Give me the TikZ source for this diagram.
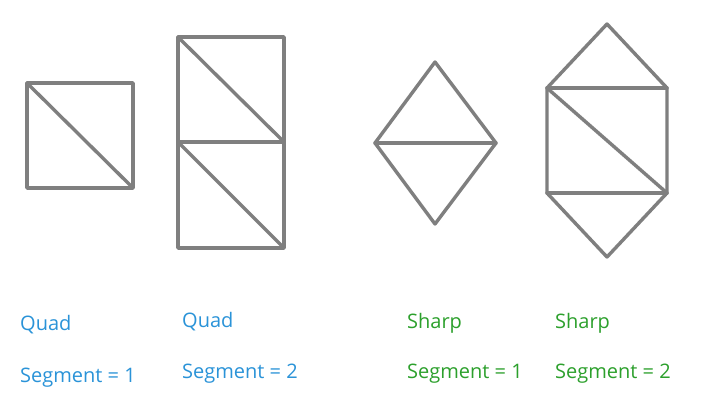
\documentclass[tikz,border=0pt]{standalone}
\usepackage{fontspec}
\setmainfont{Open Sans}
\usepackage{xcolor}
\usetikzlibrary{positioning}
\definecolor{meshGray}{HTML}{7F7F7F}
\definecolor{quadBlue}{HTML}{2A93D8}
\definecolor{sharpGreen}{HTML}{2CA02C}

\begin{document}
\begin{tikzpicture}[x=1pt,y=-1pt,
    mesh/.style={draw=meshGray, line width=3.4pt, line join=round, line cap=round},
    lbl/.style={anchor=west, inner sep=0pt, font=\fontsize{20}{24}\selectfont}]
  \useasboundingbox[fill=white] (0,0) rectangle (702,408);
  % quad, one segment
  \draw[mesh] (27,83) rectangle (133,188);
  \draw[mesh] (27,83) -- (133,188);
  % quad, two segments
  \draw[mesh] (178,37) rectangle (284,248);
  \draw[mesh] (178,142) -- (284,142);
  \draw[mesh] (178,37) -- (284,142);
  \draw[mesh] (178,142) -- (284,248);
  % sharp, one segment
  \draw[mesh] (435,62) -- (496,143) -- (435,224) -- (375,143) -- cycle;
  \draw[mesh] (375,143) -- (496,143);
  % sharp, two segments
  \draw[mesh] (607,24) -- (667,88) -- (667,193) -- (607,257) -- (547,193) -- (547,88) -- cycle;
  \draw[mesh] (547,88) -- (667,88);
  \draw[mesh] (547,193) -- (667,193);
  \draw[mesh] (547,88) -- (667,193);

  \node[lbl, quadBlue] (q1) at (20,325) {Quad};
  \node[lbl, quadBlue] (s1) at (20,378) {Segment = 1};
  \node[lbl, quadBlue] (q2) at (182,322) {Quad};
  \node[lbl, quadBlue] (s2) at (182,374) {Segment = 2};
  \node[lbl, sharpGreen] (h1) at (407,323) {Sharp};
  \node[lbl, sharpGreen] (t1) at (407,374) {Segment = 1};
  \node[lbl, sharpGreen] (h2) at (555,323) {Sharp};
  \node[lbl, sharpGreen] (t2) at (555,374) {Segment = 2};
\end{tikzpicture}
\end{document}
